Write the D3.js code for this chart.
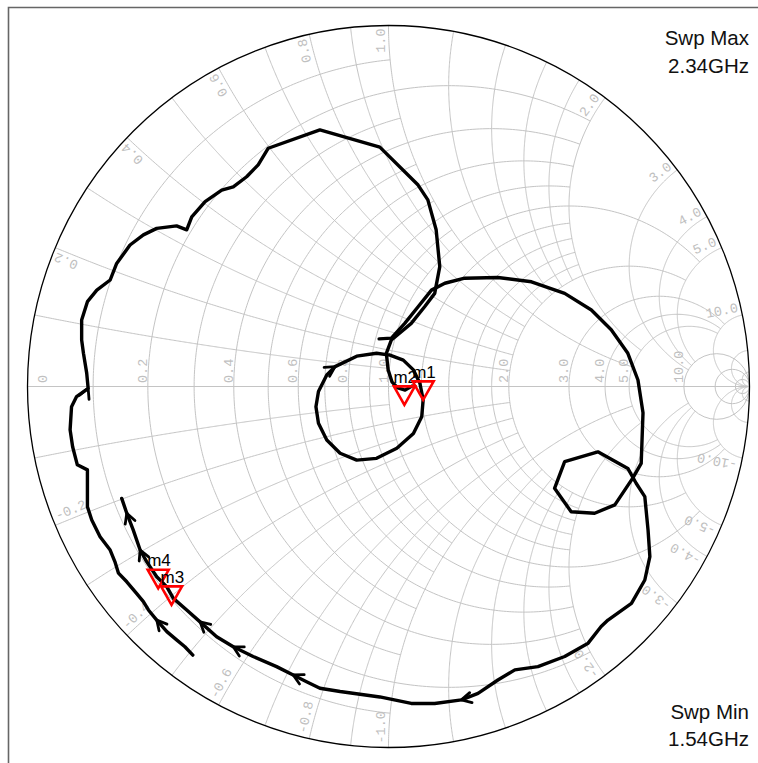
<!DOCTYPE html>
<html><head><meta charset="utf-8">
<script src="https://cdn.jsdelivr.net/npm/d3@7"></script>
<style>html,body{margin:0;padding:0;background:#fff;} svg{display:block;}</style>
</head><body>
<svg id="chart" width="758" height="763"></svg>
<script>
// ---------- grid definition (value, limit of the other coordinate) ----------
const resistanceGrid      = [0.1, 0.2, 0.3, 0.4, 0.5, 0.6, 0.7, 0.8, 0.9, 1.0, 1.2, 1.4, 1.6, 1.8, 2.0, 3, 4, 5, 10, 20, 50];
const resistanceGridLimit = [1,   2,   1,   2,   1,   2,   1,   2,   1,   5,   2,   2,   2,   2,   5,   10, 10, 10, Infinity, Infinity, Infinity];
const reactanceGrid       = [0.1, 0.2, 0.3, 0.4, 0.5, 0.6, 0.7, 0.8, 0.9, 1.0, 1.2, 1.4, 1.6, 1.8, 2.0, 3, 4, 5, 10, 20, 50];
const reactanceGridLimit  = [1,   2,   1,   2,   1,   2,   1,   2,   1,   5,   2,   2,   2,   2,   5,   10, 10, 10, Infinity, Infinity, Infinity];
// ---------- tick labels ----------
const resistanceLabels = [0, 0.2, 0.4, 0.6, 0.8, 1.0, 2.0, 3.0, 4.0, 5.0, 10.0];
const reactanceLabels  = [0.2, 0.4, 0.6, 0.8, 1.0, 2.0, 3.0, 4.0, 5.0, 10.0, -0.2, -0.4, -0.6, -0.8, -1.0, -2.0, -3.0, -4.0, -5.0, -10.0];
// ---------- traces: reflection coefficient [re, im] ----------
const traceA = [[-0.542,-0.744],[-0.564,-0.721],[-0.587,-0.702],[-0.614,-0.679],[-0.642,-0.647],[-0.665,-0.619],[-0.679,-0.596],[-0.698,-0.573],[-0.725,-0.541],[-0.748,-0.517],[-0.758,-0.485],[-0.771,-0.453],[-0.799,-0.416],[-0.822,-0.370],[-0.834,-0.333],[-0.834,-0.259],[-0.834,-0.231],[-0.862,-0.217],[-0.875,-0.167],[-0.882,-0.120],[-0.878,-0.056],[-0.864,-0.028],[-0.832,-0.005],[-0.836,0.037],[-0.845,0.092],[-0.850,0.129],[-0.850,0.184],[-0.834,0.235],[-0.808,0.267],[-0.771,0.295],[-0.753,0.341],[-0.739,0.360],[-0.716,0.392],[-0.679,0.420],[-0.642,0.438],[-0.587,0.445],[-0.559,0.434],[-0.545,0.470],[-0.508,0.512],[-0.462,0.544],[-0.430,0.553],[-0.393,0.581],[-0.361,0.614],[-0.333,0.660],[-0.190,0.711],[-0.024,0.663],[0.082,0.558],[0.109,0.517],[0.132,0.434],[0.142,0.332],[0.128,0.258],[0.100,0.221],[0.063,0.175],[0.008,0.129],[-0.006,0.092],[-0.001,0.046],[0.010,0.012],[0.026,-0.004],[0.046,-0.010],[0.065,0.001]];
const traceB = [[-0.026,0.132],[0.008,0.134],[0.045,0.175],[0.082,0.221],[0.119,0.267],[0.156,0.286],[0.211,0.300],[0.303,0.302],[0.396,0.290],[0.488,0.258],[0.562,0.212],[0.617,0.157],[0.663,0.092],[0.691,0.018],[0.705,-0.073],[0.700,-0.213],[0.677,-0.253],[0.627,-0.328],[0.571,-0.351],[0.506,-0.347],[0.460,-0.282],[0.488,-0.208],[0.580,-0.181],[0.663,-0.227],[0.686,-0.268],[0.710,-0.305],[0.719,-0.398],[0.724,-0.471],[0.710,-0.536],[0.673,-0.601],[0.608,-0.647],[0.589,-0.665],[0.553,-0.711],[0.488,-0.748],[0.414,-0.776],[0.350,-0.785],[0.303,-0.813],[0.248,-0.850],[0.202,-0.868],[0.128,-0.878],[0.063,-0.878],[-0.024,-0.860],[-0.134,-0.845],[-0.190,-0.836],[-0.227,-0.818],[-0.264,-0.799],[-0.310,-0.776],[-0.375,-0.748],[-0.430,-0.721],[-0.476,-0.693],[-0.522,-0.652],[-0.559,-0.619],[-0.596,-0.587],[-0.614,-0.555],[-0.642,-0.527],[-0.670,-0.485],[-0.688,-0.453],[-0.707,-0.398],[-0.725,-0.351],[-0.739,-0.310]];
const traceC = [[0.004,0.087],[0.041,0.073],[0.069,0.046],[0.087,0.009],[0.096,-0.037],[0.092,-0.084],[0.069,-0.130],[0.023,-0.171],[-0.033,-0.199],[-0.088,-0.204],[-0.134,-0.185],[-0.171,-0.148],[-0.194,-0.102],[-0.201,-0.056],[-0.194,-0.014],[-0.171,0.032],[-0.148,0.055],[-0.088,0.084],[-0.033,0.092],[0.004,0.087]];
// arrowheads: vertex index along each trace
const arrowsA = [4, 22];
const arrowsB = [38, 45, 48, 50, 56, 58];
const arrowsC = [16];
// markers
const markerNames = ["m1", "m2", "m3", "m4"];
const markerRe    = [0.096, 0.044, -0.601, -0.638];
const markerIm    = [-0.037, -0.051, -0.605, -0.559];
// sweep text
const sweepText = [["Swp Max", "2.34GHz"], ["Swp Min", "1.54GHz"]];

// ---------- drawing ----------
const svg = d3.select("#chart");
const cx = 388.5, cy = 386.5, R = 361;
const xs = d3.scaleLinear().domain([-1, 1]).range([cx - R, cx + R]);
const ys = d3.scaleLinear().domain([-1, 1]).range([cy + R, cy - R]);
const line = d3.line().x(d => xs(d[0])).y(d => ys(d[1]));

function gamma(r, x) {
  const den = (r + 1) * (r + 1) + x * x;
  return [(r * r - 1 + x * x) / den, (2 * x) / den];
}

svg.append("rect").attr("width", 758).attr("height", 763).attr("fill", "#fff");
svg.append("path").attr("d", "M8.5,775V7.5H775").attr("fill", "none").attr("stroke", "#666").attr("stroke-width", 1.6);

const grid = svg.append("g").attr("fill", "none").attr("stroke", "#c4c4c4").attr("stroke-width", 1);
const N = 300;
resistanceGrid.forEach((r, i) => {
  const L = resistanceGridLimit[i];
  if (!isFinite(L)) {
    grid.append("circle").attr("cx", xs(r / (1 + r))).attr("cy", ys(0))
      .attr("r", xs(1 / (1 + r)) - xs(0));
    return;
  }
  const T = Math.atan(L / (r + 1));
  const pts = d3.range(N + 1).map(k => gamma(r, (r + 1) * Math.tan(-T + 2 * T * k / N)));
  grid.append("path").attr("d", line(pts));
});
reactanceGrid.forEach((x, i) => {
  const L = reactanceGridLimit[i];
  const k0 = Math.sqrt(1 + x * x);
  const T = isFinite(L) ? Math.atan(L / k0) : Math.PI / 2 - 1e-6;
  [x, -x].forEach(xv => {
    const pts = d3.range(N + 1).map(k => gamma(k0 * Math.tan(T * k / N), xv));
    grid.append("path").attr("d", line(pts));
  });
});
grid.append("line").attr("x1", xs(-1)).attr("x2", xs(1)).attr("y1", ys(0)).attr("y2", ys(0));

// outer rim
svg.append("circle").attr("cx", xs(0)).attr("cy", ys(0)).attr("r", xs(1) - xs(0))
  .attr("fill", "none").attr("stroke", "#000").attr("stroke-width", 1.3);

// labels
const lab = svg.append("g").attr("font-family", "'Liberation Mono', 'DejaVu Sans Mono', monospace")
  .attr("font-size", 13.5).attr("fill", "#c0c0c0");
resistanceLabels.forEach(r => {
  const gx = (r - 1) / (r + 1);
  const px = r === 0 ? xs(gx) + 19 : xs(gx) - 1;
  lab.append("text").attr("transform", `translate(${px},${ys(0) - 3.5}) rotate(-90)`)
    .attr("text-anchor", "start").text(r === 0 ? "0" : r.toFixed(1));
});
reactanceLabels.forEach(v => {
  const g = gamma(0, v);
  const phi = Math.atan2(g[1], g[0]);
  const up = v > 0;
  const dir = up ? phi : phi + Math.PI;
  const inset = up ? 3 : 4;
  const rr = 1 - inset / R;
  const px = xs(Math.cos(phi) * rr), py = ys(Math.sin(phi) * rr);
  lab.append("text").attr("transform", `translate(${px},${py}) rotate(${-dir * 180 / Math.PI})`)
    .attr("dy", -4).attr("text-anchor", up ? "end" : "start").text(v.toFixed(1));
});

// traces
const tr = svg.append("g").attr("fill", "none").attr("stroke", "#000").attr("stroke-width", 3.4)
  .attr("stroke-linejoin", "round").attr("stroke-linecap", "round");
[[traceA, arrowsA], [traceB, arrowsB], [traceC, arrowsC]].forEach(([t, arr]) => {
  tr.append("path").attr("d", line(t));
  arr.forEach(i => {
    const p = [xs(t[i][0]), ys(t[i][1])];
    const a = t[Math.max(0, i - 1)], b = t[Math.min(t.length - 1, i + 1)];
    let dx = xs(b[0]) - xs(a[0]), dy = ys(b[1]) - ys(a[1]);
    const len = Math.hypot(dx, dy); dx /= len; dy /= len;
    const L = 11, ang = 28 * Math.PI / 180;
    const w1 = [p[0] - L * (dx * Math.cos(ang) - dy * Math.sin(ang)), p[1] - L * (dy * Math.cos(ang) + dx * Math.sin(ang))];
    const w2 = [p[0] - L * (dx * Math.cos(ang) + dy * Math.sin(ang)), p[1] - L * (dy * Math.cos(ang) - dx * Math.sin(ang))];
    tr.append("path").attr("stroke-width", 2.8).attr("d", `M${w1}L${p}L${w2}`);
  });
});

// markers
const mk = svg.append("g");
d3.range(markerNames.length).reverse().forEach(i => {
  const px = xs(markerRe[i]), py = ys(markerIm[i]);
  mk.append("path").attr("d", `M${px},${py}L${px - 10.5},${py - 18.5}L${px + 10.5},${py - 18.5}Z`)
    .attr("fill", "none").attr("stroke", "#ff0000").attr("stroke-width", 2.6);
  mk.append("text").attr("x", px - 11).attr("y", py - 22).attr("font-family", "'Liberation Sans', Arial, sans-serif")
    .attr("font-size", 17).attr("fill", "#000").text(markerNames[i]);
});

// sweep text
const st = svg.append("g").attr("font-family", "'Liberation Sans', Arial, sans-serif").attr("font-size", 20.5)
  .attr("fill", "#111").attr("text-anchor", "end");
st.append("text").attr("x", 749).attr("y", 45).text(sweepText[0][0]);
st.append("text").attr("x", 749).attr("y", 73).text(sweepText[0][1]);
st.append("text").attr("x", 749).attr("y", 719).text(sweepText[1][0]);
st.append("text").attr("x", 749).attr("y", 746).text(sweepText[1][1]);
</script>
</body></html>
